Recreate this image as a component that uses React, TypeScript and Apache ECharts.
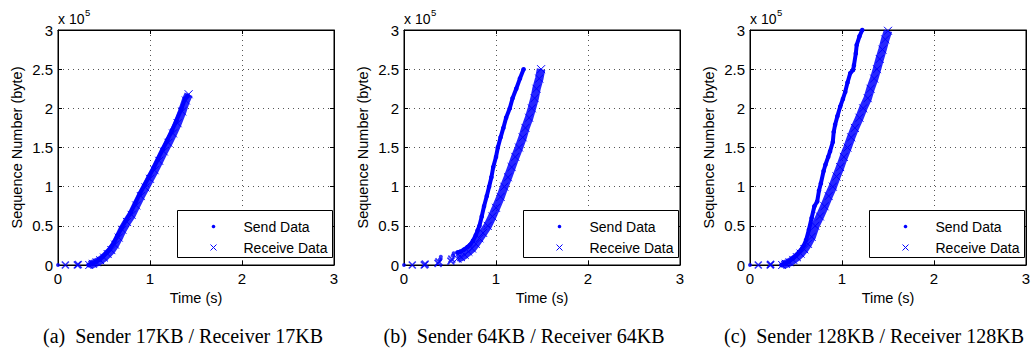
import { useEffect, useRef } from "react";
import * as echarts from "echarts";

// Sequence numbers (bytes) against time (s) for three socket buffer sizes.
// [time, sequence number]

// (a) 17KB / 17KB
const sendDotsA: number[][] = [[0, 0]];
const recvMarksA: number[][] = [[0.08, 0], [0.21, 0], [0.22, 600]];
const sendA: number[][] = [
  [0.33, 0], [0.37, 2000], [0.41, 4000], [0.45, 7000], [0.49, 11000], [0.53, 16000],
  [0.57, 22000], [0.61, 29000], [0.65, 38000], [0.69, 47000], [0.74, 57000], [0.79, 67000],
  [0.84, 79000], [0.89, 91000], [0.94, 102000], [0.99, 113000], [1.04, 124000], [1.09, 136000],
  [1.14, 148000], [1.19, 160000], [1.24, 172000], [1.29, 185000], [1.34, 199000], [1.38, 212000],
  [1.41, 216000],
];
const recvA: number[][] = [
  [0.34, 0], [0.38, 1500], [0.42, 3500], [0.46, 6000], [0.5, 9500], [0.54, 14000],
  [0.58, 19000], [0.62, 26000], [0.66, 35000], [0.7, 45000], [0.75, 55000], [0.8, 64000],
  [0.85, 76000], [0.9, 88000], [0.95, 99000], [1.0, 110000], [1.05, 121000], [1.1, 133000],
  [1.15, 145000], [1.2, 156000], [1.25, 168000], [1.3, 181000], [1.35, 196000], [1.39, 210000],
  [1.42, 218000],
];

// (b) 64KB / 64KB
const sendDotsB: number[][] = [[0, 0], [0.39, 7000], [0.4, 10500], [0.53, 12000], [0.54, 15000]];
const recvMarksB: number[][] = [[0.09, 0], [0.22, 0], [0.23, 1200], [0.37, 2000], [0.38, 4000], [0.51, 5000], [0.52, 7500]];
const sendB: number[][] = [
  [0.58, 16000], [0.61, 17000], [0.65, 19500], [0.69, 23000], [0.72, 26000], [0.75, 31000],
  [0.78, 38000], [0.8, 44000], [0.82, 50000], [0.845, 62000], [0.87, 75000], [0.9, 88000],
  [0.925, 100000], [0.95, 112000], [0.97, 125000], [1.0, 138000], [1.02, 150000], [1.05, 163000],
  [1.08, 175000], [1.11, 188000], [1.15, 200000], [1.18, 213000], [1.22, 225000], [1.26, 238000],
  [1.3, 250000],
];
const recvB: number[][] = [
  [0.58, 8000], [0.62, 10000], [0.66, 13000], [0.7, 17000], [0.74, 21000], [0.78, 27000],
  [0.82, 34000], [0.86, 41000], [0.91, 50000], [0.96, 62000], [1.0, 73000], [1.05, 87000],
  [1.09, 100000], [1.13, 112000], [1.17, 125000], [1.21, 138000], [1.25, 150000], [1.29, 163000],
  [1.32, 175000], [1.36, 188000], [1.39, 200000], [1.42, 213000], [1.44, 225000], [1.47, 238000],
  [1.49, 250000],
];

// (c) 128KB / 128KB
const sendDotsC: number[][] = [[0, 0]];
const recvMarksC: number[][] = [[0.09, 0], [0.22, 0], [0.225, 800]];
const sendC: number[][] = [
  [0.34, 0], [0.38, 2000], [0.42, 4500], [0.46, 8000], [0.5, 12000], [0.54, 17000],
  [0.58, 24000], [0.61, 32000], [0.64, 45000], [0.67, 60000], [0.7, 75000], [0.73, 81000],
  [0.75, 95000], [0.77, 104000], [0.8, 120000], [0.82, 128000], [0.85, 138000], [0.87, 145000],
  [0.9, 157000], [0.91, 170000], [0.925, 179000], [0.95, 190000], [0.98, 202000], [1.01, 212000],
  [1.035, 221000], [1.06, 233000], [1.09, 245000], [1.12, 249000], [1.13, 255000], [1.15, 270000],
  [1.16, 281000], [1.19, 292000], [1.22, 300000],
];
const recvC: number[][] = [
  [0.35, 0], [0.39, 1500], [0.43, 3500], [0.47, 6500], [0.51, 10000], [0.55, 14500],
  [0.59, 20000], [0.63, 27000], [0.67, 36000], [0.71, 50000], [0.76, 62000], [0.81, 75000],
  [0.855, 88000], [0.9, 100000], [0.94, 113000], [0.98, 125000], [1.02, 138000], [1.06, 150000],
  [1.1, 163000], [1.14, 175000], [1.19, 188000], [1.23, 200000], [1.28, 213000], [1.31, 225000],
  [1.35, 238000], [1.38, 250000], [1.41, 263000], [1.44, 275000], [1.47, 288000], [1.5, 299000],
];

const captions = [
  "(a)  Sender 17KB / Receiver 17KB",
  "(b)  Sender 64KB / Receiver 64KB",
  "(c)  Sender 128KB / Receiver 128KB",
];
const seriesNames = ["Send Data", "Receive Data"];
const xAxisName = "Time (s)";
const yAxisName = "Sequence Number (byte)";
const xTicks = { min: 0, max: 3, step: 1 };
const yTicks = { min: 0, max: 300000, step: 50000 };
const yScaleExp = 5;

const panelData = [
  { send: sendA, sendDots: sendDotsA, recv: recvA, recvMarks: recvMarksA },
  { send: sendB, sendDots: sendDotsB, recv: recvB, recvMarks: recvMarksB },
  { send: sendC, sendDots: sendDotsC, recv: recvC, recvMarks: recvMarksC },
];

// layout
const PLOT_TOP = 30;
const PLOT_H = 235;
const PLOT_W = 276;
const PLOT_LEFTS = [58, 404, 750];
const CAPTION_X = [183, 524, 874];

const BLUE = "#0000ff";
const SANS = "'Liberation Sans', Arial, Helvetica, sans-serif";
const SERIF = "'Liberation Serif', 'Times New Roman', serif";
const CROSS = "path://M0,0L10,10M0,10L10,0";

function buildOption() {
  const grid = PLOT_LEFTS.map((left) => ({
    left,
    top: PLOT_TOP,
    width: PLOT_W,
    height: PLOT_H,
    show: true,
    borderColor: "#000",
    borderWidth: 1,
    backgroundColor: "transparent",
  }));

  const axisLine = { show: true, onZero: false, lineStyle: { color: "#000", width: 1 } };
  const axisTick = { show: true, inside: true, length: 4, lineStyle: { color: "#000", width: 1 } };
  const splitLine = { show: true, lineStyle: { color: "#555", width: 1, type: [1, 4] } };
  const labelStyle = { fontFamily: SANS, fontSize: 15, color: "#000" };
  const nameStyle = { fontFamily: SANS, fontSize: 14.5, color: "#000" };

  const xAxis: any[] = [];
  const yAxis: any[] = [];
  PLOT_LEFTS.forEach((_, i) => {
    xAxis.push({
      type: "value",
      gridIndex: i,
      min: xTicks.min,
      max: xTicks.max,
      interval: xTicks.step,
      name: xAxisName,
      nameLocation: "middle",
      nameGap: 24,
      nameTextStyle: nameStyle,
      axisLine,
      axisTick,
      axisLabel: { ...labelStyle, margin: 6 },
      splitLine,
    });
    yAxis.push({
      type: "value",
      gridIndex: i,
      min: yTicks.min,
      max: yTicks.max,
      interval: yTicks.step,
      name: yAxisName,
      nameLocation: "middle",
      nameGap: 34,
      nameTextStyle: nameStyle,
      axisLine,
      axisTick,
      axisLabel: {
        ...labelStyle,
        margin: 5,
        formatter: (v: number) => String(v / Math.pow(10, yScaleExp)),
      },
      splitLine,
    });
  });
  // mirrored ticks on the top and right edges of each box
  PLOT_LEFTS.forEach((_, i) => {
    xAxis.push({
      type: "value", gridIndex: i, position: "top",
      min: xTicks.min, max: xTicks.max, interval: xTicks.step,
      axisLine, axisTick, axisLabel: { show: false }, splitLine: { show: false },
    });
    yAxis.push({
      type: "value", gridIndex: i, position: "right",
      min: yTicks.min, max: yTicks.max, interval: yTicks.step,
      axisLine, axisTick, axisLabel: { show: false }, splitLine: { show: false },
    });
  });

  const series: any[] = [];
  panelData.forEach((d, i) => {
    const common = { xAxisIndex: i, yAxisIndex: i, silent: true, emphasis: { disabled: true } };
    series.push({
      ...common,
      type: "line",
      name: seriesNames[1],
      data: d.recv,
      symbol: CROSS,
      symbolSize: 8,
      itemStyle: { color: BLUE, borderColor: BLUE, borderWidth: 1 },
      lineStyle: { color: BLUE, width: 8.5, opacity: 0.85 },
      z: 2,
    });
    series.push({
      ...common,
      type: "scatter",
      name: seriesNames[1],
      data: d.recvMarks,
      symbol: CROSS,
      symbolSize: 7,
      itemStyle: { color: BLUE, borderColor: BLUE, borderWidth: 1.6 },
      z: 2,
    });
    series.push({
      ...common,
      type: "line",
      name: seriesNames[0],
      data: d.send,
      symbol: "circle",
      symbolSize: 4.5,
      itemStyle: { color: BLUE, borderWidth: 0 },
      lineStyle: { color: BLUE, width: 4 },
      z: 3,
    });
    series.push({
      ...common,
      type: "scatter",
      name: seriesNames[0],
      data: d.sendDots,
      symbol: "circle",
      symbolSize: 4,
      itemStyle: { color: BLUE },
      z: 3,
    });
  });

  const graphic: any[] = [];
  PLOT_LEFTS.forEach((left, i) => {
    // exponent note above the y axis
    graphic.push({
      type: "text", x: left, y: 19, z: 50,
      style: { text: "x 10", font: `14px ${SANS}`, fill: "#000", textVerticalAlign: "middle" },
    });
    graphic.push({
      type: "text", x: left + 27, y: 12, z: 50,
      style: { text: String(yScaleExp), font: `9.5px ${SANS}`, fill: "#000", textVerticalAlign: "middle" },
    });
    // legend box
    const bw = 155;
    const bh = 47;
    const bx = Math.round(left + PLOT_W - 2 - bw) + 0.5;
    const by = PLOT_TOP + PLOT_H - 8 - bh + 0.5;
    const z = 100;
    graphic.push({
      type: "group", x: bx, y: by, z,
      children: [
        { type: "rect", z, shape: { x: 0, y: 0, width: bw, height: bh }, style: { fill: "#fff", stroke: "#000", lineWidth: 1 } },
        { type: "circle", z: z + 1, shape: { cx: 36, cy: 16, r: 1.8 }, style: { fill: BLUE } },
        { type: "line", z: z + 1, shape: { x1: 33, y1: 34, x2: 39, y2: 40 }, style: { stroke: BLUE, lineWidth: 1 } },
        { type: "line", z: z + 1, shape: { x1: 33, y1: 40, x2: 39, y2: 34 }, style: { stroke: BLUE, lineWidth: 1 } },
        { type: "text", z: z + 1, x: 66, y: 16, style: { text: seriesNames[0], font: `14px ${SANS}`, fill: "#000", textVerticalAlign: "middle" } },
        { type: "text", z: z + 1, x: 66, y: 37, style: { text: seriesNames[1], font: `14px ${SANS}`, fill: "#000", textVerticalAlign: "middle" } },
      ],
    });
    // caption
    graphic.push({
      type: "text", x: CAPTION_X[i], y: 336, z: 50,
      style: {
        text: captions[i], font: `20px ${SERIF}`, fill: "#000",
        textAlign: "center", textVerticalAlign: "middle",
      },
    });
  });

  return {
    animation: false,
    backgroundColor: "#fff",
    grid,
    xAxis,
    yAxis,
    series,
    graphic,
  };
}

export default function App() {
  const ref = useRef<HTMLDivElement>(null);
  useEffect(() => {
    if (!ref.current) return;
    const chart = echarts.init(ref.current, undefined, { renderer: "svg" });
    chart.setOption(buildOption() as any);
    return () => chart.dispose();
  }, []);
  return (
    <div
      ref={ref}
      style={{ position: "fixed", left: 0, top: 0, width: 1034, height: 354, background: "#fff" }}
    />
  );
}
